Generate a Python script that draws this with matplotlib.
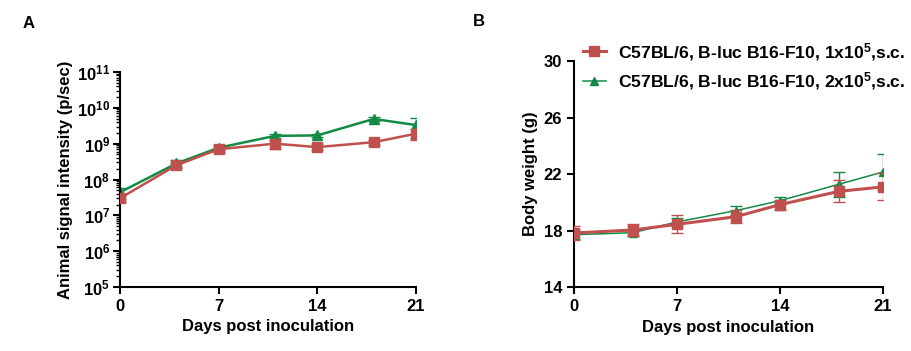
import matplotlib
matplotlib.use("Agg")
import matplotlib.pyplot as plt
from matplotlib.ticker import LogLocator

plt.rcParams["font.family"] = "Liberation Sans"
plt.rcParams["font.weight"] = "bold"
plt.rcParams["mathtext.fontset"] = "custom"
plt.rcParams["mathtext.rm"] = "Liberation Sans:bold"
plt.rcParams["mathtext.bf"] = "Liberation Sans:bold"
plt.rcParams["mathtext.default"] = "rm"

days = [0, 4, 7, 11, 14, 18, 21]

# panel A: bioluminescence (p/sec)
sig_1x = [3.0e7, 2.5e8, 7.0e8, 1.0e9, 8.0e8, 1.1e9, 1.9e9]
sig_1x_err = [0.6e7, 0.4e8, 1.0e8, 0.3e9, 1.5e8, 0.2e9, 0.6e9]
sig_2x = [4.4e7, 2.8e8, 7.7e8, 1.65e9, 1.7e9, 4.9e9, 3.3e9]
sig_2x_err = [1.5e7, 0.6e8, 1.2e8, 0.2e9, 0.2e9, 0.5e9, 1.9e9]

# panel B: body weight (g)
bw_1x = [17.84, 18.05, 18.45, 18.99, 19.84, 20.78, 21.1]
bw_1x_err = [0.5, 0.45, 0.63, 0.45, 0.35, 0.78, 0.95]
bw_2x = [17.72, 17.86, 18.62, 19.42, 20.12, 21.28, 22.15]
bw_2x_err = [0.3, 0.2, 0.3, 0.3, 0.25, 0.87, 1.27]

labels = ["C57BL/6, B-luc B16-F10, 1x10$^5$,s.c.",
          "C57BL/6, B-luc B16-F10, 2x10$^5$,s.c."]

red = "#C0504D"
green = "#138A45"

fig = plt.figure(figsize=(9.11, 3.51), dpi=100)
axA = fig.add_axes([0.1317, 0.1823, 0.325, 0.6126])
axB = fig.add_axes([0.630, 0.1815, 0.339, 0.6447])

# ---- A
axA.errorbar(days, sig_2x, yerr=sig_2x_err, color=green, marker="^", ms=7,
             lw=1.8, capsize=4, elinewidth=1, capthick=1, zorder=2)
axA.errorbar(days, sig_1x, yerr=sig_1x_err, color=red, marker="s", ms=7,
             lw=1.8, capsize=4, elinewidth=1, capthick=1, zorder=3)
axA.set_yscale("log")
axA.set_ylim(1e5, 1e11)
axA.yaxis.set_major_locator(LogLocator(base=10, numticks=10))
axA.yaxis.set_minor_locator(LogLocator(base=10, subs=range(2, 10), numticks=20))
axA.set_ylabel("Animal signal intensity (p/sec)", fontsize=12, fontweight="bold",
               labelpad=3)
axA.tick_params(axis="y", which="major", pad=2)

# ---- B
e2 = axB.errorbar(days, bw_2x, yerr=bw_2x_err, color=green, marker="^", ms=6,
                  lw=1.1, capsize=4, elinewidth=1, capthick=1, zorder=2)
e1 = axB.errorbar(days, bw_1x, yerr=bw_1x_err, color=red, marker="s", ms=7,
                  lw=2.2, capsize=4, elinewidth=1, capthick=1, zorder=3)
axB.set_ylim(14, 30)
axB.set_yticks([14, 18, 22, 26, 30])
axB.set_ylabel("Body weight (g)", fontsize=12, fontweight="bold")
axB.legend([e1[0], e2[0]], labels, loc="upper left", bbox_to_anchor=(0.029, 1.09),
           frameon=False, fontsize=12.6, handlelength=1.3, handletextpad=0.7,
           labelspacing=0.45, borderaxespad=0, borderpad=0)

for ax in (axA, axB):
    ax.set_xlim(0, 21)
    ax.set_xticks([0, 7, 14, 21])
    ax.set_xlabel("Days post inoculation", fontsize=12, fontweight="bold")
    ax.spines["top"].set_visible(False)
    ax.spines["right"].set_visible(False)
    ax.spines["left"].set_linewidth(1.5)
    ax.spines["bottom"].set_linewidth(1.5)
    ax.tick_params(axis="both", which="major", labelsize=12, width=1.5, length=5)
    ax.tick_params(axis="both", which="minor", width=1, length=3)
    for t in ax.get_xticklabels() + ax.get_yticklabels():
        t.set_fontweight("bold")

fig.text(23 / 911, 1 - 23 / 351, "A", fontsize=12, fontweight="bold", va="center")
fig.text(473 / 911, 1 - 21 / 351, "B", fontsize=12, fontweight="bold", va="center")

fig.savefig("out.png", dpi=100)
